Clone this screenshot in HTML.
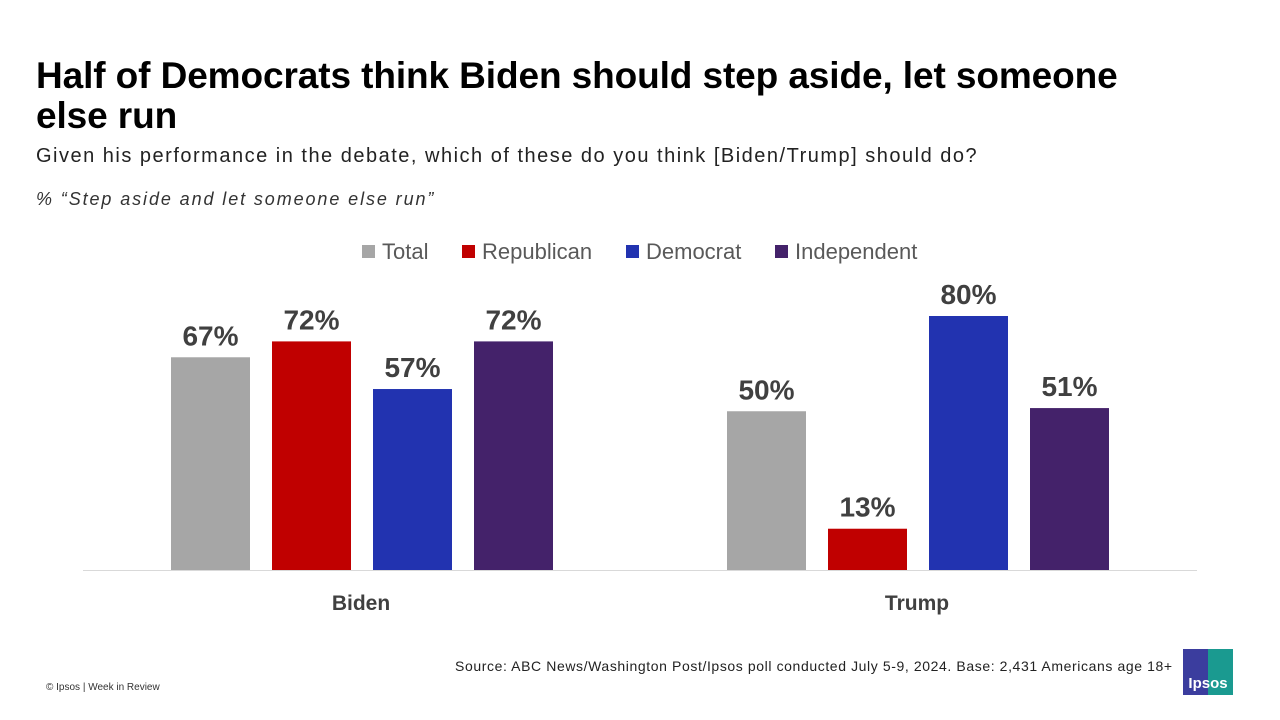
<!DOCTYPE html>
<html><head><meta charset="utf-8"><style>
body{margin:0;width:1280px;height:720px;background:#fff;font-family:"Liberation Sans",sans-serif;position:relative;overflow:hidden}
.t{position:absolute;white-space:nowrap}
</style></head><body>
<div class="t" style="left:36px;top:56px;font-size:37px;font-weight:bold;color:#000;line-height:40px;letter-spacing:-0.1px">Half of Democrats think Biden should step aside, let someone<br>else run</div>
<div class="t" style="left:36px;top:145px;font-size:20px;color:#222;letter-spacing:1.5px">Given his performance in the debate, which of these do you think [Biden/Trump] should do?</div>
<div class="t" style="left:36px;top:189px;font-size:18px;font-style:italic;color:#333;letter-spacing:1.9px">% “Step aside and let someone else run”</div>
<svg id="chart" width="1280" height="720" style="position:absolute;left:0;top:0"></svg>
<div class="t" style="left:455px;top:658px;font-size:14px;color:#222;letter-spacing:0.6px">Source: ABC News/Washington Post/Ipsos poll conducted July 5-9, 2024. Base: 2,431 Americans age 18+</div>
<div class="t" style="left:46px;top:682px;font-size:10px;color:#333">© Ipsos | Week in Review</div>
<div style="position:absolute;left:1183px;top:649px;width:50px;height:46px;background:linear-gradient(90deg,#3b3d9e 50%,#1a9a90 50%);color:#fff;font-weight:bold;font-size:15px;text-align:center;line-height:16px;box-sizing:border-box;padding-top:27px">Ipsos</div>
<script>
const categories=["Biden","Trump"];
const seriesNames=["Total","Republican","Democrat","Independent"];
const seriesColors=["#a6a6a6","#c00000","#2233b0","#44226a"];
const total=[67,50];
const republican=[72,13];
const democrat=[57,80];
const independent=[72,51];
const series=[total,republican,democrat,independent];
const svg=document.getElementById('chart');
const NS="http://www.w3.org/2000/svg";
const baseY=570, pxPer=3.175;
const groupCenter=i=>361+i*556;
const y=v=>baseY-v*pxPer;
function mk(tag,attrs,txt){const e=document.createElementNS(NS,tag);for(const k in attrs)e.setAttribute(k,attrs[k]);if(txt!=null)e.textContent=txt;svg.appendChild(e);return e;}
const ax=mk('line',{x1:83,x2:1197,y1:baseY+0.5,y2:baseY+0.5,stroke:'#d9d9d9','stroke-width':1});


const font='"Liberation Sans",sans-serif';
categories.forEach((c,i)=>{
  series.forEach((s,j)=>{
    const x=groupCenter(i)-190+j*101;
    const r=mk('rect',{x:x,y:y(s[i]),width:79,height:s[i]*pxPer,fill:seriesColors[j]});
    
    
    const t=mk('text',{x:x+39.5,y:y(s[i])-12,'text-anchor':'middle','font-size':28,'font-weight':'bold',fill:'#404040','font-family':font},s[i]+'%');
    
    
  });
  const cl=mk('text',{x:groupCenter(i),y:610,'text-anchor':'middle','font-size':21,'font-weight':'bold',fill:'#404040','font-family':font},c);
  
  
});
const legX=[362,462,626,775];
seriesNames.forEach((n,j)=>{
  const r=mk('rect',{x:legX[j],y:245,width:13,height:13,fill:seriesColors[j]});
  
  
  const t=mk('text',{x:legX[j]+20,y:259,'font-size':22,fill:'#595959','font-family':font},n);
  
  
});
</script>
</body></html>
